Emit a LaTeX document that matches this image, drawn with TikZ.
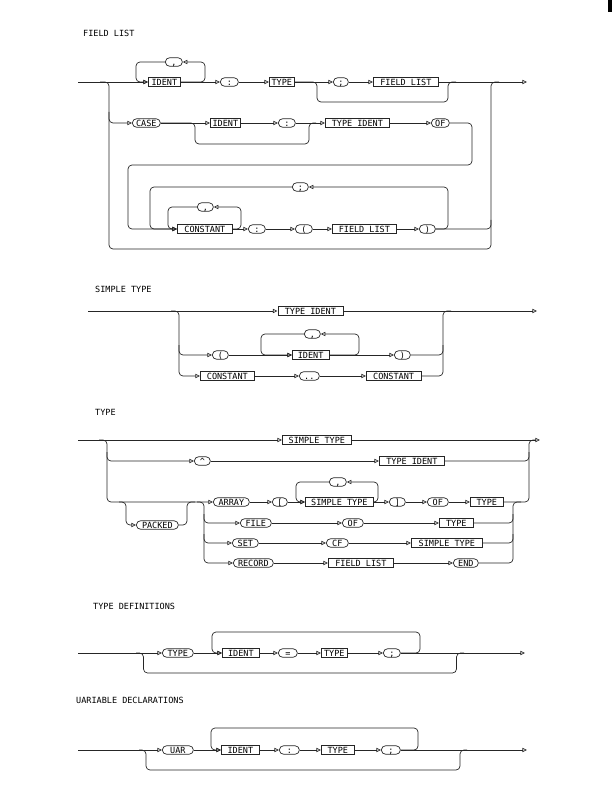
\documentclass[tikz,border=0pt]{standalone}
\usepackage{fontspec}
\newfontfamily\plotfont{DejaVu Sans Mono}
\usetikzlibrary{arrows.meta}
\begin{document}
\begin{tikzpicture}[x=1pt,y=-1pt,
  ln/.style={line width=0.7pt, draw=black!85, rounded corners=4pt},
  ar/.style={ln, -{Triangle[open,length=4.6pt,width=4.2pt]}},
  lbl/.style={font=\plotfont\fontsize{8.5}{10}\selectfont, text height=6.2pt, text depth=0pt, inner sep=0pt},
  bx/.style={lbl, draw=black!85, line width=0.7pt, rectangle, minimum height=9.5pt, anchor=west},
  ov/.style={lbl, draw=black!85, line width=0.7pt, rectangle, rounded corners=4.25pt, minimum height=8.5pt, anchor=west},
  ttl/.style={font=\plotfont\fontsize{8.5}{10}\selectfont, inner sep=0pt, anchor=west}]
\useasboundingbox (0,0) rectangle (612,791);
\fill[black] (607.5,0) rectangle (612,12);

% ================= FIELD LIST =================
\node[ttl] (t1) at (83,33) {FIELD LIST};
\coordinate (fin) at (78,82);
\coordinate (fout) at (527,82);
\node[bx, minimum width=32pt] (fa) at (148,82) {IDENT};
\node[ov, minimum width=17pt] (fb) at (165,62) {,};
\node[ov, minimum width=18pt] (fc) at (220,82) {:};
\node[bx, minimum width=25pt] (fd) at (269,82) {TYPE};
\node[ov, minimum width=15pt] (fe) at (333,82) {;};
\node[bx, minimum width=65pt] (ff) at (373,82) {FIELD LIST};
\node[ov, minimum width=28pt] (fg) at (132,123) {CASE};
\node[bx, minimum width=30pt] (fh) at (210,123) {IDENT};
\node[ov, minimum width=17pt] (fi) at (278,123) {:};
\node[bx, minimum width=64pt] (fj) at (325,123) {TYPE IDENT};
\node[ov, minimum width=18pt] (fk) at (431,123) {OF};
\node[bx, minimum width=55pt] (fl) at (177,229) {CONSTANT};
\node[ov, minimum width=16pt] (fm) at (197,207) {,};
\node[ov, minimum width=17pt] (fn) at (248,229) {:};
\node[ov, minimum width=17pt] (fo) at (295,229) {(};
\node[bx, minimum width=64pt] (fp) at (332,229) {FIELD LIST};
\node[ov, minimum width=16pt] (fq) at (419,229) {)};
\node[ov, minimum width=16pt] (fr) at (292,187) {;};

\draw[ar] (fin) -- (fa.west);
\draw[ar] (fb.west) -| (136,82) -- (fa.west);
\draw[ar] (fa.east) -| (205,62) -- (fb.east);
\draw[ar] (fa.east) -- (fc.west);
\draw[ar] (fc.east) -- (fd.west);
\draw[ar] (fd.east) -- (fe.west);
\draw[ar] (fe.east) -- (ff.west);
\draw[ar] (ff.east) -- (fout);
\draw[ln] (fd.east) -- (317,82) -- (317,102) -- (448,102) -- (448,82) -- (456,82);
\draw[ln] (100,82) -- (109,82) -- (109,249) -- (491,249) -- (491,82) -- (499,82);
\draw[ar] (109,112) |- (fg.west);
\draw[ar] (fg.east) -- (fh.west);
\draw[ln] (fg.east) -- (195,123) -- (195,144) -- (309,144) -- (309,123) -- (316,123);
\draw[ar] (fh.east) -- (fi.west);
\draw[ar] (fi.east) -- (fj.west);
\draw[ar] (fj.east) -- (fk.west);
\draw[ar] (fk.east) -- (472,123) -- (472,165) -- (128,165) -- (128,229) -- (fl.west);
\draw[ar] (fr.west) -| (150,229) -- (fl.west);
\draw[ar] (fm.west) -| (168,229) -- (fl.west);
\draw[ar] (fl.east) -| (241,207) -- (fm.east);
\draw[ar] (fl.east) -- (fn.west);
\draw[ar] (fn.east) -- (fo.west);
\draw[ar] (fo.east) -- (fp.west);
\draw[ar] (fp.east) -- (fq.west);
\draw[ar] (fq.east) -| (448,187) -- (fr.east);
\draw[ln] (fq.east) -- (491,229) -- (491,220);

% ================= SIMPLE TYPE =================
\node[ttl] (t2) at (95,289) {SIMPLE TYPE};
\coordinate (sin) at (88,311);
\coordinate (sout) at (537,311);
\node[bx, minimum width=65pt] (sa) at (277.5,311) {TYPE IDENT};
\node[ov, minimum width=16pt] (sb) at (212,355) {(};
\node[ov, minimum width=16pt] (sc) at (304,334) {,};
\node[bx, minimum width=36.5pt] (sd) at (292,355) {IDENT};
\node[ov, minimum width=16pt] (se) at (394,355) {)};
\node[bx, minimum width=54pt] (sf) at (200,376) {CONSTANT};
\node[ov, minimum width=20pt] (sg) at (299,376) {..};
\node[bx, minimum width=54.5pt] (sh) at (366,376) {CONSTANT};

\draw[ar] (sin) -- (sa.west);
\draw[ar] (sa.east) -- (sout);
\draw[ar] (171,311) -- (179,311) |- (sf.west);
\draw[ar] (179,345) |- (sb.west);
\draw[ar] (sb.east) -- (sd.west);
\draw[ar] (sc.west) -| (261,355) -- (sd.west);
\draw[ar] (sd.east) -| (359,334) -- (sc.east);
\draw[ar] (sd.east) -- (se.west);
\draw[ln] (se.east) -- (443,355) -- (443,345);
\draw[ar] (sf.east) -- (sg.west);
\draw[ar] (sg.east) -- (sh.west);
\draw[ln] (sh.east) -- (443,376) -- (443,311) -- (451,311);

% ================= TYPE =================
\node[ttl] (t3) at (95,412) {TYPE};
\coordinate (tin) at (78,440);
\coordinate (tout) at (540,440);
\node[bx, minimum width=69pt] (ta) at (282,440) {SIMPLE TYPE};
\node[ov, minimum width=16pt] (tb) at (194,461) {\textasciicircum};
\node[bx, minimum width=65pt] (tc) at (379,461) {TYPE IDENT};
\node[ov, minimum width=42pt] (td) at (136,525) {PACKED};
\node[ov, minimum width=36pt] (te) at (213,502) {ARRAY};
\node[ov, minimum width=15pt] (tf) at (272,502) {[};
\node[ov, minimum width=17pt] (tg) at (329,482) {,};
\node[bx, minimum width=68pt] (th) at (305,502) {SIMPLE TYPE};
\node[ov, minimum width=16pt] (ti) at (389,502) {]};
\node[ov, minimum width=21pt] (tj) at (427,502) {OF};
\node[bx, minimum width=33pt] (tk) at (470,502) {TYPE};
\node[ov, minimum width=31pt] (tl) at (240,523) {FILE};
\node[ov, minimum width=21pt] (tm) at (342,523) {OF};
\node[bx, minimum width=34pt] (tn) at (439,523) {TYPE};
\node[ov, minimum width=26pt] (to) at (232,543) {SET};
\node[ov, minimum width=22pt] (tp) at (326,543) {CF};
\node[bx, minimum width=71pt] (tq) at (411,543) {SIMPLE TYPE};
\node[ov, minimum width=40pt] (tr) at (233,563) {RECORD};
\node[bx, minimum width=65pt] (ts) at (328,563) {FIELD LIST};
\node[ov, minimum width=25pt] (tt) at (453,563) {END};

\draw[ar] (tin) -- (ta.west);
\draw[ar] (ta.east) -- (tout);
\draw[ar] (99,440) -- (107,440) |- (te.west);
\draw[ar] (107,452) |- (tb.west);
\draw[ar] (tb.east) -- (tc.west);
\draw[ln] (tc.east) -- (529,461) -- (529,452);
\draw[ar] (119,502) -- (126,502) |- (td.west);
\draw[ln] (td.east) -| (187,502) -- (195,502);
\draw[ar] (197,502) -- (204,502) |- (tr.west);
\draw[ar] (204,514) |- (tl.west);
\draw[ar] (204,534) |- (to.west);
\draw[ar] (te.east) -- (tf.west);
\draw[ar] (tf.east) -- (th.west);
\draw[ar] (tg.west) -| (296,502) -- (th.west);
\draw[ar] (th.east) -| (378,482) -- (tg.east);
\draw[ar] (th.east) -- (ti.west);
\draw[ar] (ti.east) -- (tj.west);
\draw[ar] (tj.east) -- (tk.west);
\draw[ln] (tk.east) -- (529,502) -- (529,440) -- (536,440);
\draw[ar] (tl.east) -- (tm.west);
\draw[ar] (tm.east) -- (tn.west);
\draw[ln] (tn.east) -- (513,523) -- (513,514);
\draw[ar] (to.east) -- (tp.west);
\draw[ar] (tp.east) -- (tq.west);
\draw[ln] (tq.east) -- (513,543) -- (513,534);
\draw[ar] (tr.east) -- (ts.west);
\draw[ar] (ts.east) -- (tt.west);
\draw[ln] (tt.east) -- (513,563) -- (513,502) -- (521,502);

% ================= TYPE DEFINITIONS =================
\node[ttl] (t4) at (93,606) {TYPE DEFINITIONS};
\coordinate (din) at (78,653);
\coordinate (dout) at (525,653);
\node[ov, minimum width=31pt] (da) at (162,653) {TYPE};
\node[bx, minimum width=37pt] (db) at (222,653) {IDENT};
\node[ov, minimum width=19pt] (dc) at (278,653) {=};
\node[bx, minimum width=26pt] (dd) at (321,653) {TYPE};
\node[ov, minimum width=17pt] (de) at (383,653) {;};

\draw[ar] (din) -- (da.west);
\draw[ar] (da.east) -- (db.west);
\draw[ar] (de.east) -- (420,653) -- (420,632) -- (212,632) -- (212,653) -- (db.west);
\draw[ar] (db.east) -- (dc.west);
\draw[ar] (dc.east) -- (dd.west);
\draw[ar] (dd.east) -- (de.west);
\draw[ar] (de.east) -- (dout);
\draw[ln] (136,653) -- (143.5,653) -- (143.5,673) -- (456.5,673) -- (456.5,653) -- (464,653);

% ================= VARIABLE DECLARATIONS =================
\node[ttl] (t5) at (76,700) {UARIABLE DECLARATIONS};
\coordinate (vin) at (78,750);
\coordinate (vout) at (527,750);
\node[ov, minimum width=31pt] (va) at (162,750) {UAR};
\node[bx, minimum width=38pt] (vb) at (221,750) {IDENT};
\node[ov, minimum width=20pt] (vc) at (279,750) {:};
\node[bx, minimum width=33pt] (vd) at (321,750) {TYPE};
\node[ov, minimum width=19pt] (ve) at (381,750) {;};

\draw[ar] (vin) -- (va.west);
\draw[ar] (va.east) -- (vb.west);
\draw[ar] (ve.east) -- (418,750) -- (418,728) -- (211,728) -- (211,750) -- (vb.west);
\draw[ar] (vb.east) -- (vc.west);
\draw[ar] (vc.east) -- (vd.west);
\draw[ar] (vd.east) -- (ve.west);
\draw[ar] (ve.east) -- (vout);
\draw[ln] (139,750) -- (146,750) -- (146,770) -- (460,770) -- (460,750) -- (467,750);
\end{tikzpicture}
\end{document}
